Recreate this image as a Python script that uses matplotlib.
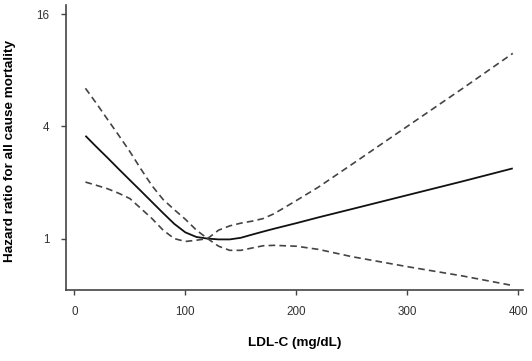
import matplotlib
matplotlib.use("Agg")
import matplotlib.pyplot as plt
from matplotlib.ticker import FixedLocator, FixedFormatter, NullLocator

plt.rcParams['font.family'] = ['Liberation Sans', 'DejaVu Sans']

ldl = [10, 20, 30, 40, 50, 60, 70, 80, 90, 100, 110, 120, 130, 140, 150, 160,
       170, 180, 200, 220, 250, 300, 350, 395]
hr = [3.56, 3.10, 2.71, 2.36, 2.06, 1.80, 1.57, 1.37, 1.20, 1.08, 1.02, 1.00,
      0.99, 0.99, 1.01, 1.05, 1.09, 1.13, 1.21, 1.30, 1.44, 1.71, 2.03, 2.38]
upper = [6.4, 5.3, 4.35, 3.58, 2.93, 2.36, 1.92, 1.62, 1.43, 1.27, 1.11, 1.00,
         1.11, 1.17, 1.21, 1.24, 1.28, 1.36, 1.60, 1.89, 2.50, 4.0, 6.4, 9.85]
lower = [2.01, 1.93, 1.85, 1.75, 1.64, 1.45, 1.28, 1.11, 1.00, 0.965, 0.98, 1.00,
         0.91, 0.865, 0.865, 0.89, 0.915, 0.92, 0.91, 0.875, 0.80, 0.707, 0.63, 0.56]

xticks = [0, 100, 200, 300, 400]
yticks = [1, 4, 16]
ytick_labels = ["1", "4", "16"]

W, H = 532, 361
fig = plt.figure(figsize=(W / 100, H / 100), dpi=100)
ax = fig.add_axes([66 / W, 1 - 290 / H, (523 - 66) / W, (290 - 5) / H])

ax.plot(ldl, hr, color='#111111', lw=1.3, solid_capstyle='butt')
ax.plot(ldl, upper, color='#444444', lw=1.2, ls=(0, (4, 2.5)))
ax.plot(ldl, lower, color='#444444', lw=1.2, ls=(0, (4, 2.5)))

ax.set_yscale('log', base=2)
ax.set_xlim(-7.5, 404.2)
ax.set_ylim(0.53, 17.9)
ax.yaxis.set_major_locator(FixedLocator(yticks))
ax.yaxis.set_major_formatter(FixedFormatter(ytick_labels))
ax.yaxis.set_minor_locator(NullLocator())
ax.set_xticks(xticks)
ax.set_xticklabels([str(t) for t in xticks])

for s in ['top', 'right']:
    ax.spines[s].set_visible(False)
for s in ['left', 'bottom']:
    ax.spines[s].set_color('#444444')
    ax.spines[s].set_linewidth(1.2)

ax.tick_params(axis='both', direction='out', length=3.8, width=1.0,
               color='#444444', labelsize=8.4, labelcolor='#333333')
ax.tick_params(axis='y', pad=8)
ax.tick_params(axis='x', pad=8)

ax.set_xlabel('LDL-C (mg/dL)', fontsize=9.7, fontweight='bold')
ax.set_ylabel('Hazard ratio for all cause mortality', fontsize=9.7,
              fontweight='bold')
ax.xaxis.set_label_coords(0.5, (290 - 337) / 285)
ax.yaxis.set_label_coords((16 - 66) / 457, 0.488)

fig.savefig('out.png', dpi=100, facecolor='white')
